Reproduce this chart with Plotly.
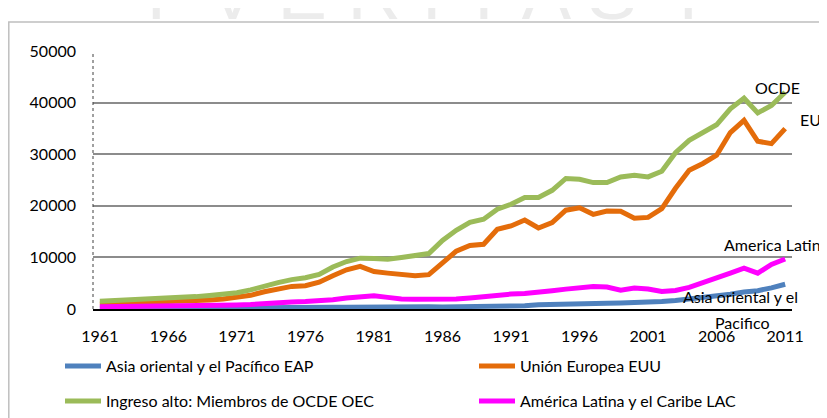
import plotly.graph_objects as go

years = list(range(1961, 2012))

eap = [90, 90, 95, 100, 110, 115, 115, 120, 130, 140,
       150, 165, 200, 240, 260, 270, 300, 320, 350, 400,
       420, 420, 430, 430, 420, 410, 420, 470, 500, 520,
       570, 640, 800, 900, 1000, 1100, 1100, 1100, 1150, 1200,
       1300, 1450, 1650, 1900, 2150, 2450, 2850, 3300, 3550, 4100,
       4800]

euu = [950, 1030, 1120, 1220, 1310, 1400, 1480, 1570, 1730, 1950,
       2200, 2650, 3350, 3800, 4380, 4500, 5200, 6450, 7600, 8250,
       7250, 6950, 6750, 6450, 6650, 9050, 11200, 12300, 12550, 15450,
       16100, 17250, 15700, 16750, 19150, 19600, 18350, 18980, 18950, 17600,
       17750, 19450, 23400, 26900, 28200, 29800, 34200, 36550, 32500, 32050,
       34950]

oec = [1500, 1600, 1720, 1850, 1980, 2130, 2250, 2400, 2620, 2850,
       3150, 3700, 4500, 5100, 5700, 6050, 6700, 8150, 9200, 9850,
       9800, 9650, 10000, 10400, 10750, 13300, 15250, 16800, 17400, 19350,
       20300, 21600, 21600, 23000, 25300, 25150, 24500, 24500, 25600, 25900,
       25600, 26700, 30300, 32700, 34200, 35700, 38800, 40850, 38000, 39450,
       42000]

lac = [420, 440, 460, 500, 530, 560, 580, 610, 660, 720,
       790, 880, 1100, 1350, 1350, 1450, 1600, 1800, 2150, 2450,
       2550, 2250, 1950, 1900, 1900, 1880, 1950, 2150, 2400, 2750,
       2900, 3000, 3200, 3550, 3850, 4100, 4380, 4250, 3650, 4050,
       3880, 3400, 3600, 4200, 5200, 6050, 6950, 7900, 6950, 8650,
       9700]

x_ticks = list(range(1961, 2012, 5))
x_tick_labels = [str(y) for y in x_ticks]
y_ticks = [0, 10000, 20000, 30000, 40000, 50000]

series_names = ["Asia oriental y el Pacífico EAP", "Unión Europea EUU",
                "Ingreso alto: Miembros de OCDE OEC", "América Latina y el Caribe LAC"]
series_values = [eap, euu, oec, lac]
series_colors = ["#4f81bd", "#e46c0a", "#9bbb59", "#ff00ff"]

FONT = "Lato, Liberation Sans, sans-serif"
FS = 16

W, H = 827, 418
OFF = 8  # page body margin offset
L, T = 85, 43
R, B = 43, 117
pw, ph = W - L - R, H - T - B

def px_x(sx):
    return (sx - OFF - L) / pw

def px_y(sy):
    return (H - B - (sy - OFF)) / ph

def cx(sx):
    return (sx - OFF) / W

def cy(sy):
    return 1 - (sy - OFF) / H

# legend slots (screen px): left of item, centre y of row
legend_slots = [(60, 366), (474, 366), (60, 401), (474, 401)]
legend_ids = ["legend", "legend2", "legend3", "legend4"]

fig = go.Figure()
for name, vals, color, lid in zip(series_names, series_values, series_colors, legend_ids):
    fig.add_trace(go.Scatter(
        x=years, y=vals, name=name, mode="lines",
        line=dict(color=color, width=5),
        legend=lid,
    ))

layout_legends = {}
for lid, (sx, sy) in zip(legend_ids, legend_slots):
    layout_legends[lid] = dict(
        xref="container", yref="container",
        x=cx(sx), y=cy(sy), xanchor="left", yanchor="middle",
        orientation="h", itemwidth=36,
        font=dict(family=FONT, size=FS, color="#000000"),
        bgcolor="rgba(0,0,0,0)",
    )

fig.update_layout(
    width=W, height=H,
    margin=dict(l=L, r=R, t=T, b=B, autoexpand=False),
    paper_bgcolor="white", plot_bgcolor="white",
    font=dict(family=FONT, size=FS, color="#000000"),
    showlegend=True,
    **layout_legends,
    xaxis=dict(
        range=[1960.5, 2011.5], tickmode="array",
        tickvals=x_ticks, ticktext=x_tick_labels,
        showgrid=False, zeroline=False,
        showline=True, linecolor="#000000", linewidth=1.5,
        ticks="", ticklabelstandoff=12,
        tickfont=dict(family=FONT, size=FS, color="#000000"),
    ),
    yaxis=dict(
        range=[0, 50000], tickmode="array", tickvals=y_ticks,
        ticktext=[str(v) for v in y_ticks],
        showgrid=True, gridcolor="#8c8c8c", gridwidth=1.5,
        zeroline=False, showline=False, ticks="",
        ticklabelstandoff=16,
        tickfont=dict(family=FONT, size=FS, color="#000000"),
    ),
)

# dotted vertical axis line
fig.add_shape(type="line", xref="paper", yref="paper", x0=0, x1=0, y0=0, y1=1,
              line=dict(color="#404040", width=1, dash="dot"), layer="above")

# watermark at the very top
fig.add_annotation(xref="paper", yref="paper", x=px_x(422), y=px_y(37),
                   xanchor="center", yanchor="bottom", showarrow=False,
                   text="I  V E R I T A S  I",
                   font=dict(family="Liberation Sans", size=74, color="#ececec"))

# chart area border
fig.add_shape(type="rect", xref="paper", yref="paper",
              x0=px_x(8.8), x1=px_x(900), y0=px_y(600), y1=px_y(22),
              line=dict(color="#bfbfbf", width=1.5), fillcolor="rgba(0,0,0,0)",
              layer="above")

# series end labels (screen px positions of the label text)
labels = [
    ("OCDE", 777, 87, "center"),
    ("EUU", 798, 119, "left"),
    ("America Latina", 722, 244, "left"),
    ("Asia oriental y el", 681, 296, "left"),
    ("Pacifico", 713, 322, "left"),
]
for txt, sx, sy, anc in labels:
    fig.add_annotation(x=px_x(sx), y=px_y(sy), xref="paper", yref="paper", text=txt,
                       showarrow=False, xanchor=anc, yanchor="middle",
                       font=dict(family=FONT, size=FS, color="#000000"))

fig.write_html("out.html")
